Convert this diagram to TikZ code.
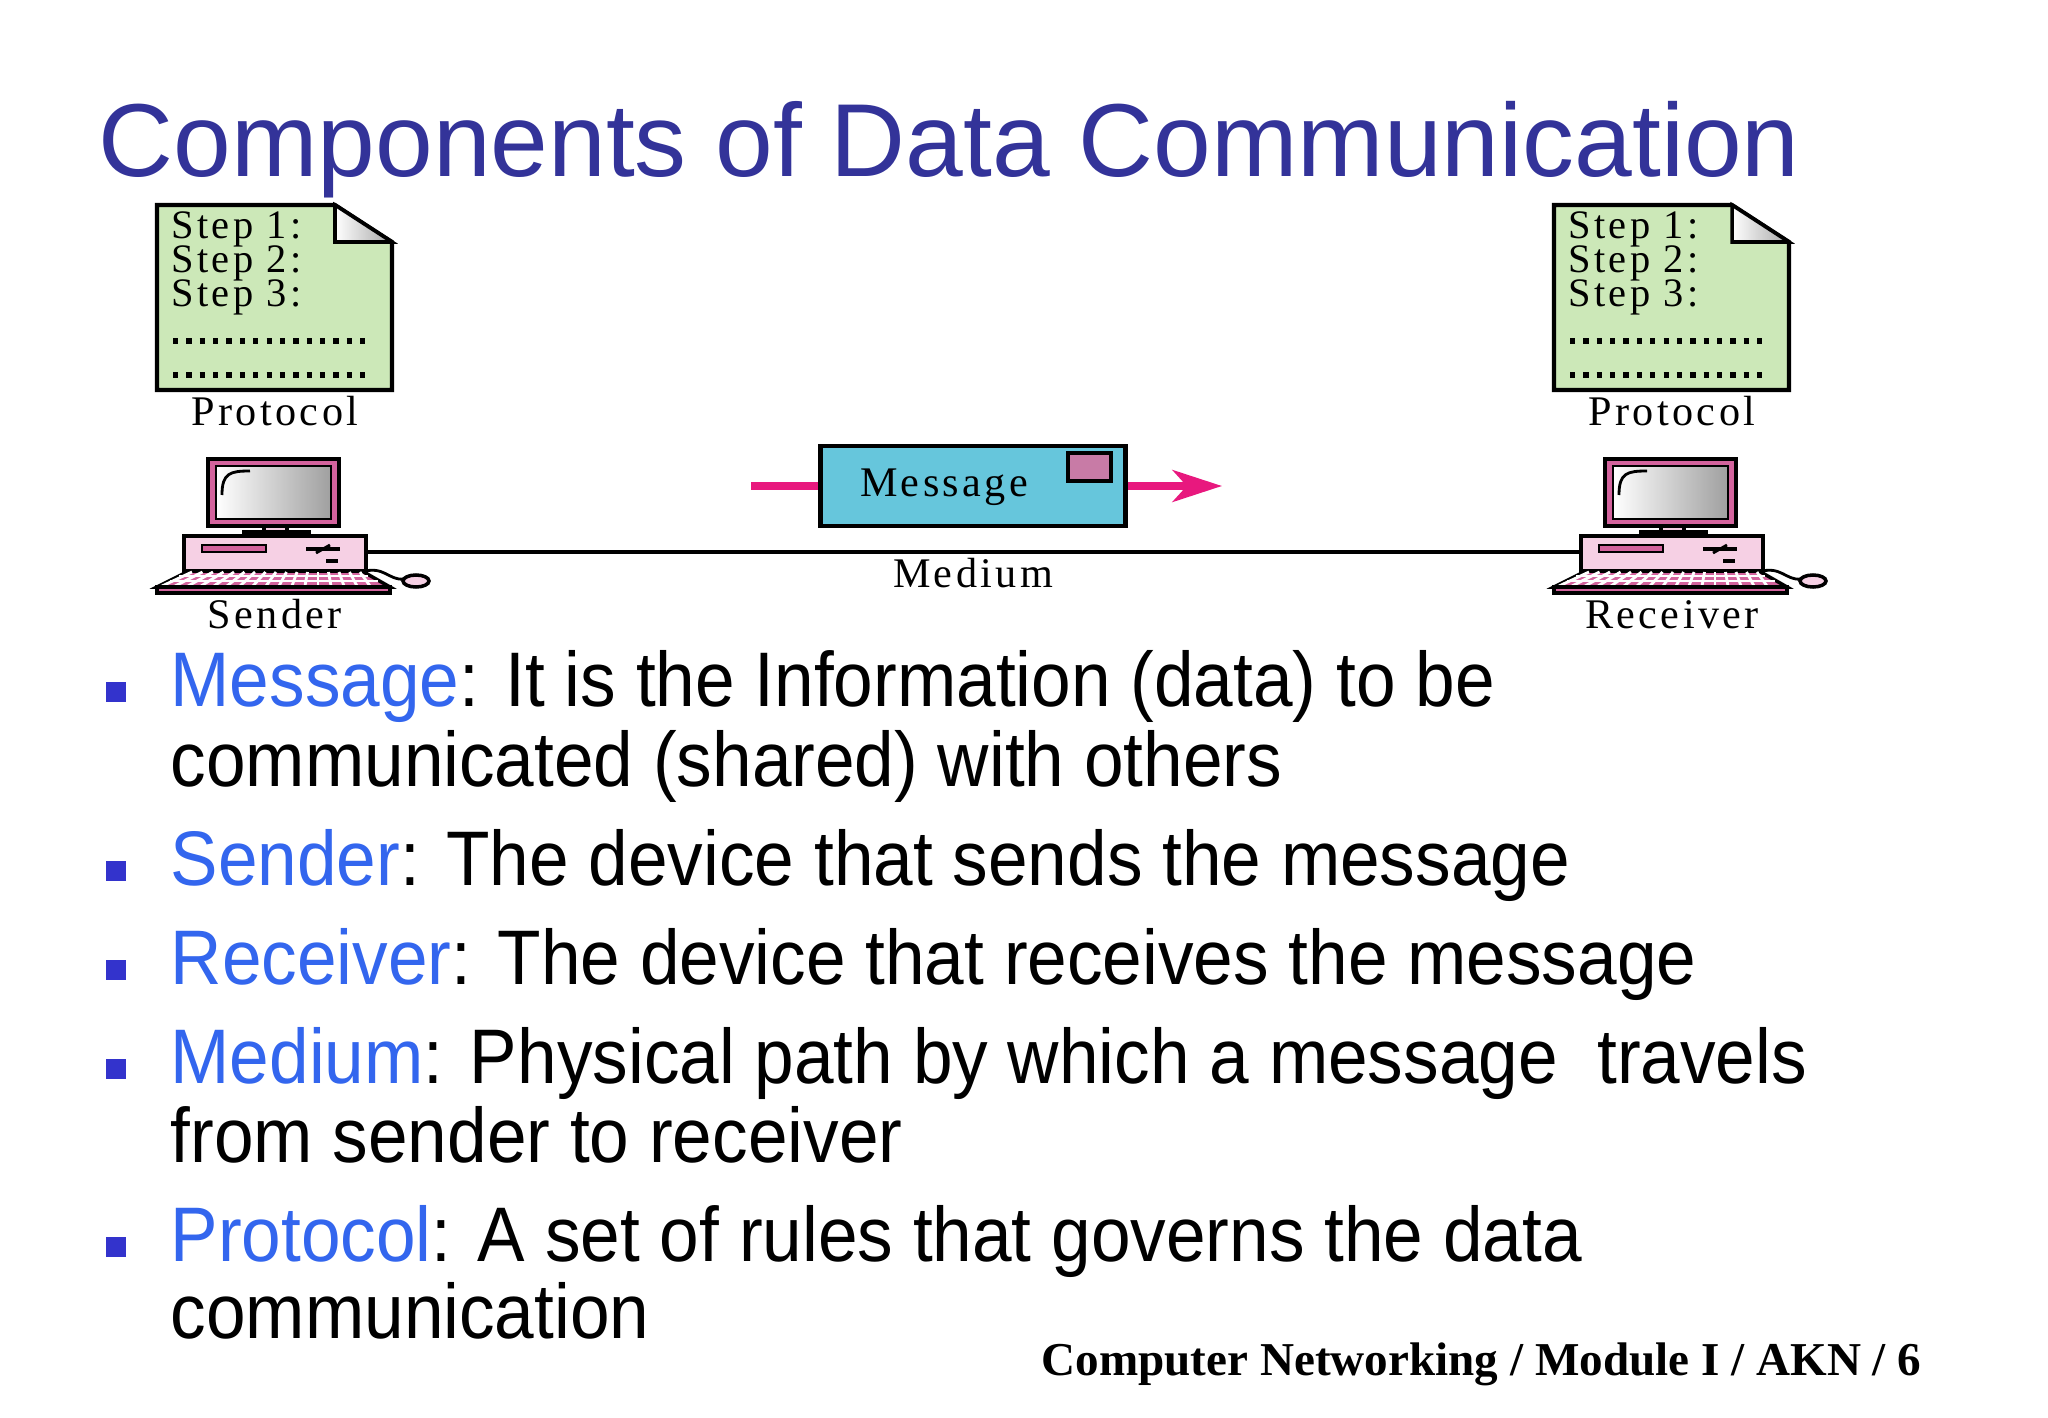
\documentclass[tikz,border=0pt]{standalone}
\usepackage{fontspec}
\setmainfont{Liberation Serif}
\newfontfamily\slidefont{Liberation Sans}
\newfontfamily\bodyfont[FakeStretch=0.92]{Liberation Sans}
\newfontfamily\figfont[LetterSpace=8]{Liberation Serif}
\definecolor{titleblue}{HTML}{333399}
\definecolor{keyblue}{HTML}{3366EE}
\definecolor{bulletblue}{HTML}{3333CC}
\definecolor{docgreen}{HTML}{CCE8B8}
\definecolor{msgcyan}{HTML}{66C6DC}
\definecolor{arrowpink}{HTML}{E8187E}
\definecolor{stamp}{HTML}{C87BA6}
\definecolor{pcfill}{HTML}{F6D0E4}
\definecolor{pcline}{HTML}{C83C84}
\usetikzlibrary{arrows.meta}
\tikzset{
  figtext/.style={font=\figfont\fontsize{12pt}{14pt}\selectfont, inner sep=0pt},
  steptext/.style={font=\figfont\fontsize{11.5pt}{13pt}\selectfont, inner sep=0pt, anchor=base west},
  bodytext/.style={font=\bodyfont\fontsize{22pt}{26pt}\selectfont, anchor=base west, inner sep=0pt, text=black},
  bulletsq/.style={fill=bulletblue, draw=none, minimum size=20*0.2835pt, inner sep=0pt},
  pcpart/.style={draw=black, line width=1pt, fill=pcfill},
}
\newcommand{\mydoc}[2]{%
  \begin{scope}[shift={#1}]
    \draw[line width=1.2pt, fill=docgreen] (0,0) -- (178,0) -- (235,37) -- (235,185) -- (0,185) -- cycle;
    \draw[line width=1pt, left color=white, right color=gray!70] (178,0) -- (235,37) -- (178,37) -- cycle;
    \node[steptext] (#2s1) at (14,33) {Step 1:};
    \node[steptext] (#2s2) at (14,67) {Step 2:};
    \node[steptext] (#2s3) at (14,101) {Step 3:};
    \draw[line width=1.5pt, dash pattern=on 1.5pt off 2.3pt] (16,136) -- (210,136);
    \draw[line width=1.5pt, dash pattern=on 1.5pt off 2.3pt] (16,170) -- (210,170);
  \end{scope}}
\newcommand{\mypc}[1]{%
  \begin{scope}[shift={#1}]
    \draw[line width=1pt, draw=black, fill=pcline!80] (24,-76) rectangle (155,-9);
    \draw[line width=0.8pt, left color=white, right color=gray!75] (32,-69) rectangle (147,-16);
    \draw[line width=0.8pt] (38,-40) .. controls (38,-62) and (46,-64) .. (66,-64);
    \draw[pcpart] (80,-9) rectangle (103,-3);
    \draw[pcpart] (60,-3) rectangle (125,1);
    \draw[pcpart] (0,1) rectangle (182,36);
    \draw[line width=0.6pt, fill=pcline!80] (18,10) rectangle (82,17);
    \draw[line width=1pt] (122,14) -- (156,14);
    \draw[line width=0.8pt] (132,18) -- (146,10);
    \fill (142,24) rectangle (154,28);
    \draw[line width=1pt, fill=pcline!80] (5,36) -- (178,36) -- (206,52) -- (-27,52) -- cycle;
    \foreach \i in {0,...,16} { \draw[white, line width=0.8pt] ({8+\i*10.5},37) -- ({-22+\i*13},51); }
    \draw[white, line width=0.8pt] (-5,41) -- (184,41);
    \draw[white, line width=0.8pt] (-14,46) -- (194,46);
    \draw[line width=1pt, fill=pcline!80] (-27,52) rectangle (206,58);
    \draw[line width=0.8pt] (178,37) .. controls (200,30) and (205,46) .. (220,44);
    \draw[line width=1pt, fill=pcfill] (232,46) ellipse (13 and 6);
  \end{scope}}
\begin{document}
\begin{tikzpicture}[x=0.01cm, y=-0.01cm]
\useasboundingbox (0,0) rectangle (2048,1418);
\fill[white] (0,0) rectangle (2048,1418);
\node[anchor=base west, inner sep=0pt, text=titleblue, font=\slidefont\fontsize{29.5pt}{34pt}\selectfont] (title) at (98,176) {Components of Data Communication};

\mydoc{(157,205)}{L}
\mydoc{(1554,205)}{R}
\node[figtext, anchor=base] (protL) at (275,425) {Protocol};
\node[figtext, anchor=base] (protR) at (1672,425) {Protocol};

\coordinate (caseL) at (366,552);
\coordinate (caseR) at (1581,552);
\draw[line width=1.3pt] (caseL) -- (caseR);
\mypc{(184,535)}
\mypc{(1581,535)}
\node[figtext, anchor=base] (sender) at (275,628) {Sender};
\node[figtext, anchor=base] (receiver) at (1672,628) {Receiver};
\node[figtext, anchor=base] (medium) at (973,587) {Medium};

\node[draw=black, line width=1.2pt, fill=msgcyan, minimum width=306*0.2835pt, minimum height=80*0.2835pt, inner sep=0pt] (msg) at (973,486) {};
\node[figtext, anchor=base] (msgtext) at (944,496) {Message};
\draw[line width=1pt, fill=stamp] (1068,453) rectangle (1111,481);
\coordinate (ain) at (751,486);
\coordinate (aout) at (1222,486);
\draw[arrowpink, line width=2.2pt] (ain) -- (msg.west);
\draw[arrowpink, line width=2.2pt, -{Stealth[length=14pt, width=9pt, inset=4pt]}] (msg.east) -- (aout);

% bullets
\node[bulletsq] (b1) at (116,692) {};
\node[bodytext] (t1) at (170,706) {\textcolor{keyblue}{Message}: It is the Information (data) to be};
\node[bodytext] (t1b) at (170,786) {communicated (shared) with others};
\node[bulletsq] (b2) at (116,871) {};
\node[bodytext] (t2) at (170,885) {\textcolor{keyblue}{Sender}: The device that sends the message};
\node[bulletsq] (b3) at (116,970) {};
\node[bodytext] (t3) at (170,984) {\textcolor{keyblue}{Receiver}: The device that receives the message};
\node[bulletsq] (b4) at (116,1069) {};
\node[bodytext] (t4) at (170,1083) {\textcolor{keyblue}{Medium}: Physical path by which a message\ \ travels};
\node[bodytext] (t4b) at (170,1162) {from sender to receiver};
\node[bulletsq] (b5) at (116,1247) {};
\node[bodytext] (t5) at (170,1261) {\textcolor{keyblue}{Protocol}: A set of rules that governs the data};
\node[bodytext] (t5b) at (170,1338) {communication};
\node[anchor=base east, inner sep=0pt, font=\bfseries\fontsize{13.4pt}{16pt}\selectfont] (footer) at (1922,1375) {Computer Networking / Module I / AKN / 6};
\end{tikzpicture}
\end{document}
